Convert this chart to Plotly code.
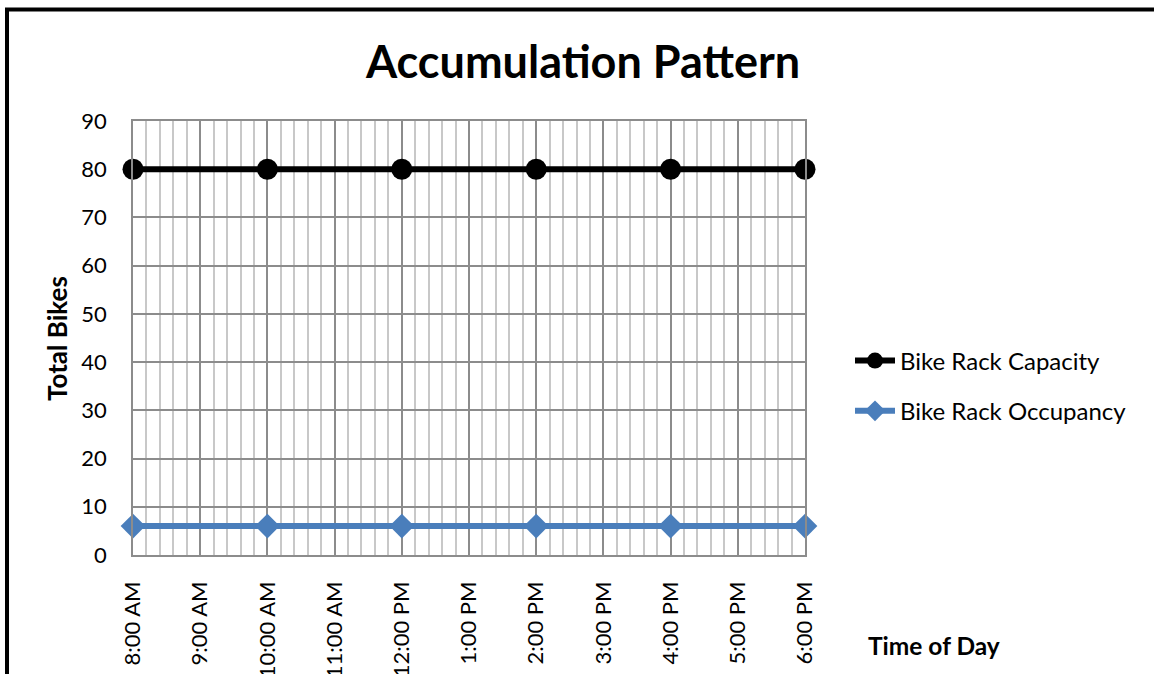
import plotly.graph_objects as go

# Observation times (hours of day) and counts
hours = [8, 10, 12, 14, 16, 18]
capacity = [80, 80, 80, 80, 80, 80]
occupancy = [6, 6, 6, 6, 6, 6]

tick_hours = [8, 9, 10, 11, 12, 13, 14, 15, 16, 17, 18]
tick_text = ["8:00 AM", "9:00 AM", "10:00 AM", "11:00 AM", "12:00 PM", "1:00 PM",
             "2:00 PM", "3:00 PM", "4:00 PM", "5:00 PM", "6:00 PM"]
y_ticks = [0, 10, 20, 30, 40, 50, 60, 70, 80, 90]

FONT = "Lato"
W, H = 1154, 674
L, R, T, B = 133, 349, 121, 119
pw, ph = W - L - R, H - T - B

fig = go.Figure()
fig.add_trace(go.Scatter(
    x=hours, y=capacity, name="Bike Rack Capacity", mode="lines+markers",
    line=dict(color="#000000", width=6),
    marker=dict(symbol="circle", size=21, color="#000000"),
    legendgroup="cap", cliponaxis=False,
))
fig.add_trace(go.Scatter(
    x=hours, y=occupancy, name="Bike Rack Occupancy", mode="lines+markers",
    line=dict(color="#4a7ebb", width=6),
    marker=dict(symbol="diamond", size=19, color="#4a7ebb"),
    legendgroup="occ", cliponaxis=False,
))

fig.update_layout(
    width=W, height=H,
    margin=dict(l=L, r=R, t=T, b=B, autoexpand=False),
    paper_bgcolor="white", plot_bgcolor="white",
    font=dict(family=FONT, size=22, color="#000000"),
    title=dict(text="<b>Accumulation Pattern</b>", x=583 / W, xanchor="center",
               y=1 - 62 / H, yanchor="middle", font=dict(family=FONT, size=45)),
    xaxis=dict(
        range=[8, 18], tickmode="array", tickvals=tick_hours, ticktext=tick_text,
        tickangle=-90, ticks="", ticklabelstandoff=16,
        showgrid=True, gridcolor="#8c8c8c", gridwidth=1.5,
        minor=dict(tick0=8, dtick=0.2, showgrid=True, gridcolor="#c8c8c8", gridwidth=1.5),
        showline=True, linecolor="#8c8c8c", linewidth=1.5, mirror=True,
        zeroline=False, fixedrange=True,
    ),
    yaxis=dict(
        range=[0, 90], tickmode="array", tickvals=y_ticks,
        ticks="", ticklabelstandoff=20,
        showgrid=True, gridcolor="#8c8c8c", gridwidth=1.5,
        showline=True, linecolor="#8c8c8c", linewidth=1.5, mirror=True,
        zeroline=False, fixedrange=True,
    ),
    legend=dict(
        x=(850 - L) / pw, xanchor="left", y=(H - B - 386) / ph, yanchor="middle",
        traceorder="grouped", tracegroupgap=16, bgcolor="rgba(0,0,0,0)",
        font=dict(family=FONT, size=24), itemwidth=40,
    ),
    showlegend=True,
)

# Axis titles
fig.add_annotation(text="<b>Total Bikes</b>", textangle=-90, showarrow=False,
                   xref="paper", yref="paper", x=(57 - L) / pw, y=(H - B - 339) / ph,
                   xanchor="center", yanchor="middle", font=dict(family=FONT, size=26))
fig.add_annotation(text="<b>Time of Day</b>", showarrow=False,
                   xref="paper", yref="paper", x=(934 - L) / pw, y=(H - B - 645) / ph,
                   xanchor="center", yanchor="middle", font=dict(family=FONT, size=24.5))

# Chart-area frame (left and top edges)
fig.add_shape(type="line", xref="paper", yref="paper",
              x0=(7 - L) / pw, x1=(7 - L) / pw, y0=(H - B - 700) / ph, y1=(H - B - 9.5) / ph,
              line=dict(color="#000000", width=4))
fig.add_shape(type="line", xref="paper", yref="paper",
              x0=(5 - L) / pw, x1=(1200 - L) / pw, y0=(H - B - 9.5) / ph, y1=(H - B - 9.5) / ph,
              line=dict(color="#000000", width=4))

fig.write_html("out.html")
